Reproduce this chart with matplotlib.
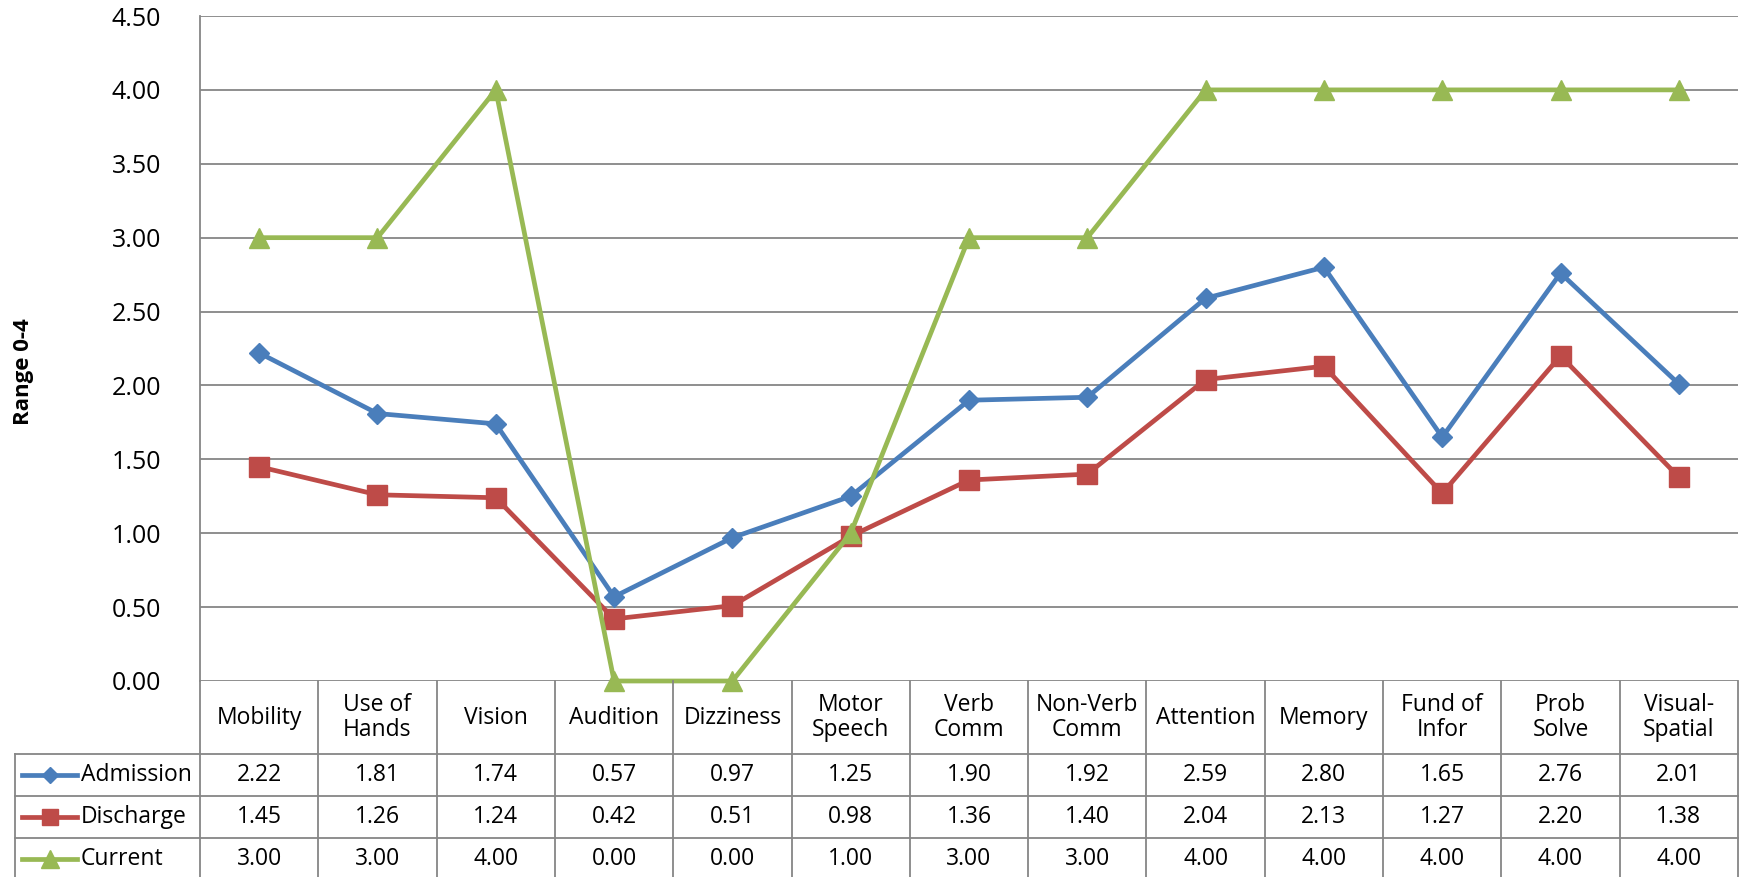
import numpy as np
import matplotlib.pyplot as plt
from matplotlib.lines import Line2D

plt.rcParams['font.family'] = ['Open Sans', 'DejaVu Sans']

categories = ['Mobility', 'Use of\nHands', 'Vision', 'Audition', 'Dizziness',
              'Motor\nSpeech', 'Verb\nComm', 'Non-Verb\nComm', 'Attention',
              'Memory', 'Fund of\nInfor', 'Prob\nSolve', 'Visual-\nSpatial']
admission = [2.22, 1.81, 1.74, 0.57, 0.97, 1.25, 1.90, 1.92, 2.59, 2.80, 1.65, 2.76, 2.01]
discharge = [1.45, 1.26, 1.24, 0.42, 0.51, 0.98, 1.36, 1.40, 2.04, 2.13, 1.27, 2.20, 1.38]
current = [3.00, 3.00, 4.00, 0.00, 0.00, 1.00, 3.00, 3.00, 4.00, 4.00, 4.00, 4.00, 4.00]
yticks = np.arange(0, 4.51, 0.5)

series = [
    ('Admission', admission, '#4A7EBB', 'D', 10),
    ('Discharge', discharge, '#BE4B48', 's', 14),
    ('Current', current, '#98B954', '^', 15),
]

W, H = 1745, 877
fig = plt.figure(figsize=(W / 100, H / 100), dpi=100)

# pixel layout of plot area and data table
px_left, px_right = 200, 1738
px_top, px_bottom = 16, 681
legend_left = 15
grid_col = '#868686'

ax = fig.add_axes([px_left / W, 1 - px_bottom / H,
                   (px_right - px_left) / W, (px_bottom - px_top) / H])
n = len(categories)
x = np.arange(n)
ax.set_xlim(-0.5, n - 0.5)
ax.set_ylim(0, 4.5)
ax.set_yticks(yticks)
ax.set_yticklabels([f'{v:.2f}' for v in yticks], fontsize=18)
ax.set_xticks([])
ax.tick_params(axis='y', length=0, pad=28)
ax.grid(True, axis='y', color=grid_col, linewidth=1.3)
ax.set_axisbelow(True)
for s in ['top', 'right', 'bottom']:
    ax.spines[s].set_visible(False)
ax.spines['left'].set_color(grid_col)
ax.spines['left'].set_linewidth(1.3)

for name, vals, col, mk, ms in series:
    ax.plot(x, vals, color=col, linewidth=3.4, marker=mk, markersize=ms,
            clip_on=False, zorder=3)

fig.text(24 / W, 1 - 372 / H, 'Range 0-4', rotation=90, fontsize=16,
         fontweight='bold', ha='center', va='center')

# data table below the axes
colw = (px_right - px_left) / n
xl = -0.5 - (px_left - legend_left) / colw
tab = fig.add_axes([legend_left / W, 0, (px_right - legend_left) / W, (H - px_bottom) / H])
tab.set_xlim(xl, n - 0.5)
tab.set_ylim(H - px_bottom, 0)
tab.axis('off')
rows = [0, 73, 115, 157, 199]

lk = dict(color=grid_col, linewidth=1.3, clip_on=False)
for i in range(n + 1):
    tab.plot([i - 0.5, i - 0.5], [rows[0], rows[-1]], **lk)
tab.plot([xl, xl], [rows[1], rows[-1]], **lk)
for r in rows[1:4]:
    tab.plot([xl, n - 0.5], [r, r], **lk)

for i, c in enumerate(categories):
    tab.text(i, (rows[0] + rows[1]) / 2, c, ha='center', va='center',
             fontsize=16.5, linespacing=1.1)

row_y = [(rows[1] + rows[2]) / 2, (rows[2] + rows[3]) / 2, rows[3] + 21]
for (name, vals, col, mk, ms), yc in zip(series, row_y):
    for i, v in enumerate(vals):
        tab.text(i, yc, f'{v:.2f}', ha='center', va='center', fontsize=16.5)
    # legend key: short line with a marker in the middle
    x0 = xl + 7 / colw
    x1 = xl + 62 / colw
    tab.add_line(Line2D([x0, (x0 + x1) / 2, x1], [yc, yc, yc], color=col,
                        linewidth=3.4, marker=mk, markersize=ms * 0.85,
                        markevery=[1], clip_on=False))
    tab.text(xl + 66 / colw, yc, name, ha='left', va='center', fontsize=16.5)

fig.savefig('out.png', dpi=100)
